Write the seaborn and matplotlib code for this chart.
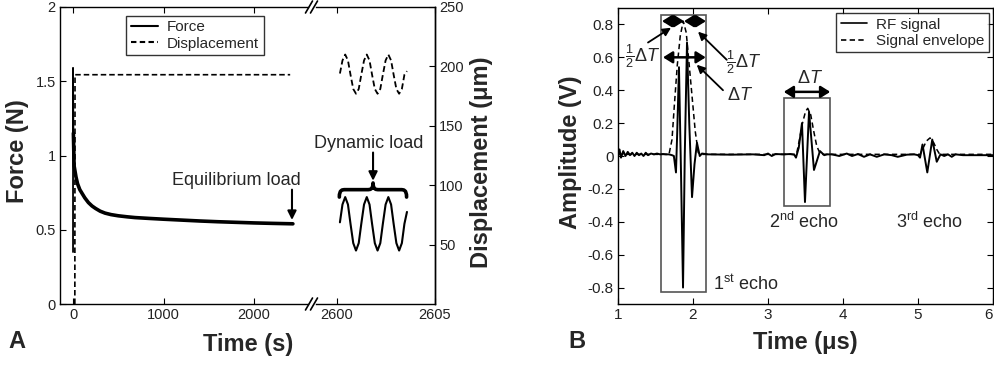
import matplotlib
matplotlib.use("Agg")
import matplotlib.pyplot as plt
import seaborn as sns
from matplotlib.lines import Line2D
from matplotlib.path import Path
from matplotlib.patches import PathPatch, Rectangle, ArrowStyle

#####
# Panel A data: creep test (force / displacement vs time)
#####
force_t = [0, 0, 4, 12, 33, 50, 75, 100, 130, 170, 210, 250, 300, 354, 420, 500, 600,
           685, 850, 1000, 1200, 1400, 1600, 1800, 2000, 2200, 2430]
force_n = [0.35, 1.59, 1.15, 0.93, 0.855, 0.81, 0.77, 0.745, 0.715, 0.683, 0.66, 0.643,
           0.625, 0.612, 0.602, 0.594, 0.587, 0.582, 0.576, 0.571, 0.565, 0.559, 0.554,
           0.55, 0.546, 0.543, 0.54]
disp_t = [20, 22, 2400]
disp_um = [0, 193, 193]

# dynamic load segment (after the axis break)
dyn_t = [2600.15, 2600.28, 2600.42, 2600.56, 2600.69, 2600.83, 2600.97, 2601.11,
         2601.24, 2601.38, 2601.52, 2601.66, 2601.79, 2601.93, 2602.07, 2602.21,
         2602.34, 2602.48, 2602.62, 2602.76, 2602.89, 2603.03, 2603.17, 2603.31,
         2603.44, 2603.57]
dyn_force = [0.55, 0.67, 0.72, 0.67, 0.54, 0.41, 0.36, 0.41, 0.54, 0.67, 0.72, 0.67,
             0.54, 0.41, 0.36, 0.41, 0.54, 0.67, 0.72, 0.67, 0.54, 0.41, 0.36, 0.41,
             0.54, 0.62]
dyn_disp = [194, 205, 210, 205, 193, 181, 177, 181, 193, 205, 210, 205, 193, 181,
            177, 181, 193, 205, 210, 205, 193, 181, 177, 181, 193, 196]

#####
# Panel B data: RF signal and envelope
#####
rf_t = [1.00, 1.02, 1.04, 1.07, 1.10, 1.13, 1.16, 1.19, 1.22, 1.25, 1.28, 1.31, 1.34,
        1.37, 1.40, 1.44, 1.48, 1.52, 1.56, 1.60, 1.64, 1.68, 1.72, 1.745,
        1.773, 1.79, 1.813, 1.84, 1.867, 1.89, 1.92, 1.95, 1.987, 2.02, 2.053, 2.09, 2.12,
        2.2, 2.5, 2.8, 2.95, 3.0, 3.05, 3.1, 3.2, 3.3, 3.35,
        3.373, 3.41, 3.453, 3.493, 3.547, 3.613, 3.693, 3.75, 3.787,
        3.85, 3.95, 4.05, 4.12, 4.2, 4.28, 4.36, 4.45, 4.55, 4.65, 4.73, 4.85, 4.95, 5.0,
        5.027, 5.06, 5.124, 5.19, 5.25, 5.3, 5.35, 5.4, 5.45, 5.5, 5.6, 6.0]
rf_v = [0.00, 0.04, -0.01, 0.03, 0.00, 0.025, 0.005, 0.02, 0.0, 0.02, 0.005, 0.015, 0.0,
        0.02, 0.005, 0.015, 0.01, 0.015, 0.01, 0.012, 0.01, 0.01, 0.005, 0.0,
        -0.10, 0.15, 0.54, -0.10, -0.80, 0.0, 0.69, 0.20, -0.25, -0.05, 0.08, 0.0, 0.015,
        0.01, 0.008, 0.01, 0.005, 0.015, 0.0, 0.012, 0.01, 0.012, 0.008,
        -0.01, 0.05, 0.20, -0.28, 0.27, -0.085, 0.03, 0.005, 0.01,
        0.01, 0.0, 0.015, 0.0, 0.012, -0.005, 0.01, -0.005, 0.01, 0.005, -0.005, 0.008, 0.01, 0.005,
        -0.01, 0.07, -0.10, 0.10, -0.035, 0.01, 0.0, 0.01, -0.005, 0.01, 0.005, 0.005]
env_t = [1.0, 1.68, 1.72, 1.75, 1.79, 1.83, 1.87, 1.91, 1.95, 1.99, 2.03, 2.07, 2.12,
         3.38, 3.42, 3.46, 3.50, 3.53, 3.57, 3.61, 3.65, 3.70,
         5.03, 5.07, 5.11, 5.16, 5.21, 5.25, 5.29, 6.0]
env_v = [0.01, 0.01, 0.10, 0.30, 0.55, 0.73, 0.82, 0.75, 0.55, 0.35, 0.15, 0.02, 0.01,
         0.01, 0.10, 0.20, 0.27, 0.29, 0.25, 0.15, 0.06, 0.01,
         0.01, 0.05, 0.09, 0.11, 0.08, 0.04, 0.01, 0.01]

sns.set_theme(style="ticks")
plt.rcParams["font.family"] = ["Liberation Sans", "DejaVu Sans"]
plt.rcParams["mathtext.fontset"] = "custom"
plt.rcParams["mathtext.rm"] = "Liberation Sans"
plt.rcParams["mathtext.it"] = "Liberation Sans:italic"
plt.rcParams["mathtext.bf"] = "Liberation Sans:bold"
plt.rcParams["axes.linewidth"] = 1.0
plt.rcParams["axes.edgecolor"] = "black"

W, H = 995, 365
fig = plt.figure(figsize=(W / 100, H / 100), dpi=100)


def box(x0, y0, x1, y1):
    return [x0 / W, 1 - y1 / H, (x1 - x0) / W, (y1 - y0) / H]


ax1 = fig.add_axes(box(60, 7, 308, 304))
ax2 = fig.add_axes(box(316, 7, 435, 304), sharey=ax1)
ax1r = ax1.twinx()
ax2r = ax2.twinx()
axb = fig.add_axes(box(618, 8, 993, 304))

tick_kw = dict(direction="in", length=4, width=0.8, pad=3, colors="black", labelcolor="#222")

# ---- panel A ----
dash_a = (0, (3.3, 1.8))
sns.lineplot(x=force_t, y=force_n, ax=ax1, sort=False, estimator=None, color="black", lw=1.3)
sns.lineplot(x=force_t[2:], y=force_n[2:], ax=ax1, sort=False, estimator=None, color="black", lw=2.6)
sns.lineplot(x=disp_t, y=disp_um, ax=ax1r, sort=False, estimator=None, color="black", lw=1.2,
             linestyle=dash_a)
sns.lineplot(x=dyn_t, y=dyn_force, ax=ax2, sort=False, estimator=None, color="black", lw=1.5)
sns.lineplot(x=dyn_t, y=dyn_disp, ax=ax2r, sort=False, estimator=None, color="black", lw=1.3,
             linestyle=dash_a)

ax1.set_xlim(-144, 2597)
ax2.set_xlim(2598.93, 2605)
ax1.set_ylim(0, 2)
ax1r.set_ylim(0, 250)
ax2r.set_ylim(0, 250)

ax1.spines["right"].set_visible(False)
ax2.spines["left"].set_visible(False)
for s in ax1r.spines.values():
    s.set_visible(False)
ax2r.spines["left"].set_visible(False)
ax2r.spines["top"].set_visible(False)
ax2r.spines["bottom"].set_visible(False)
ax1r.set_yticks([])
ax1r.tick_params(right=False, labelright=False)

ax1.set_xticks([0, 1000, 2000])
ax1.set_xticklabels(["0", "1000", "2000"])
ax1.set_yticks([0, 0.5, 1, 1.5, 2])
ax1.set_yticklabels(["0", "0.5", "1", "1.5", "2"])
ax1.tick_params(axis="both", labelsize=10.5, top=True, right=False, **tick_kw)
ax2.set_xticks([2600, 2605])
ax2.set_xticklabels(["2600", "2605"])
ax2.tick_params(axis="x", labelsize=10.5, top=True, **tick_kw)
ax2.tick_params(axis="y", left=False, labelleft=False, right=False)
ax2r.set_yticks([50, 100, 150, 200, 250])
ax2r.set_yticklabels(["50", "100", "150", "200", "250"])
ax2r.tick_params(axis="y", labelsize=10.5, right=True, **tick_kw)
for a in (ax1, ax2, ax1r, ax2r):
    a.set_xlabel("")
    a.set_ylabel("")

handles_a = [Line2D([], [], color="black", lw=1.5),
             Line2D([], [], color="black", lw=1.5, linestyle=(0, (2.6, 1.6)))]
leg_a = ax1r.legend(handles_a, ["Force", "Displacement"], loc="upper left",
                    bbox_to_anchor=(0.266, 0.97), fontsize=11, frameon=True, fancybox=False,
                    edgecolor="black", handlelength=1.8, labelspacing=0.15, borderpad=0.3,
                    handletextpad=0.6, borderaxespad=0)
leg_a.get_frame().set_linewidth(1.0)

arr = dict(arrowstyle="-|>", color="black", lw=1.5, mutation_scale=13, shrinkA=0, shrinkB=0)
ax1.text(1801, 0.83, "Equilibrium load", fontsize=13, ha="center", va="center")
ax1.annotate("", xy=(2420, 0.566), xytext=(2420, 0.77), arrowprops=arr)
ax2.text(2601.63, 1.084, "Dynamic load", fontsize=13, ha="center", va="center")
ax2.annotate("", xy=(2601.84, 0.83), xytext=(2601.84, 1.02), arrowprops=arr)

# curly brace over the dynamic load
x0, x1, xm, r = 2600.12, 2603.55, 2601.84, 0.3
yl, ym, yh = 0.72, 0.77, 0.815
verts = [(x0, yl), (x0, ym), (x0 + r / 2, ym), (x0 + r, ym),
         (xm - r, ym),
         (xm - r / 2, ym), (xm, ym), (xm, yh),
         (xm, ym), (xm + r / 2, ym), (xm + r, ym),
         (x1 - r, ym),
         (x1 - r / 2, ym), (x1, ym), (x1, yl)]
codes = [Path.MOVETO, Path.CURVE4, Path.CURVE4, Path.CURVE4,
         Path.LINETO,
         Path.CURVE4, Path.CURVE4, Path.CURVE4,
         Path.CURVE4, Path.CURVE4, Path.CURVE4,
         Path.LINETO,
         Path.CURVE4, Path.CURVE4, Path.CURVE4]
ax2.add_patch(PathPatch(Path(verts, codes), fill=False, lw=2.6, edgecolor="black",
                        capstyle="round", joinstyle="round"))

# axis break marks
for yb in (7, 304):
    for xb in (309, 314):
        fig.add_artist(Line2D([(xb - 3.5) / W, (xb + 3.5) / W],
                              [1 - (yb + 6) / H, 1 - (yb - 6) / H],
                              color="black", lw=1.2, transform=fig.transFigure))

# ---- panel B ----
sns.lineplot(x=rf_t, y=rf_v, ax=axb, sort=False, estimator=None, color="black", lw=1.4)
sns.lineplot(x=env_t, y=env_v, ax=axb, sort=False, estimator=None, color="black", lw=1.1,
             linestyle=(0, (3.5, 2.2)))
axb.set_xlim(1, 6)
axb.set_ylim(-0.9, 0.9)
axb.set_xlabel("")
axb.set_ylabel("")
axb.set_xticks([1, 2, 3, 4, 5, 6])
axb.set_xticklabels(["1", "2", "3", "4", "5", "6"])
yt = [-0.8, -0.6, -0.4, -0.2, 0, 0.2, 0.4, 0.6, 0.8]
axb.set_yticks(yt)
axb.set_yticklabels(["-0.8", "-0.6", "-0.4", "-0.2", "0", "0.2", "0.4", "0.6", "0.8"])
axb.tick_params(axis="both", labelsize=11, top=True, right=True, **tick_kw)
# the last x label sits on the figure edge: keep it inside
axb.get_xticklabels()[-1].set_horizontalalignment("right")

axb.add_patch(Rectangle((1.573, -0.83), 0.6, 1.685, fill=False, edgecolor="#555555", lw=1.2))
axb.add_patch(Rectangle((3.21, -0.305), 0.62, 0.655, fill=False, edgecolor="#555555", lw=1.2))

handles_b = [Line2D([], [], color="black", lw=1.2),
             Line2D([], [], color="black", lw=1.2, linestyle=(0, (3.2, 2.0)))]
leg_b = axb.legend(handles_b, ["RF signal", "Signal envelope"], loc="upper right",
                   bbox_to_anchor=(0.989, 0.983), fontsize=11, frameon=True, fancybox=False,
                   edgecolor="black", handlelength=1.7, labelspacing=0.15, borderpad=0.3,
                   handletextpad=0.6, borderaxespad=0)
leg_b.get_frame().set_linewidth(1.0)

dbl = dict(arrowstyle=ArrowStyle("<|-|>", head_length=0.4, head_width=0.25), color="black",
           lw=1.8, mutation_scale=14, shrinkA=0, shrinkB=0)
axb.annotate("", xy=(1.587, 0.82), xytext=(1.88, 0.82), arrowprops=dbl)
axb.annotate("", xy=(1.88, 0.82), xytext=(2.173, 0.82), arrowprops=dbl)
axb.annotate("", xy=(1.60, 0.60), xytext=(2.17, 0.60), arrowprops=dbl)
axb.annotate("", xy=(3.21, 0.39), xytext=(3.83, 0.39), arrowprops=dbl)

one = dict(arrowstyle="-|>", color="black", lw=1.3, mutation_scale=12, shrinkA=0, shrinkB=0)
axb.annotate("", xy=(1.707, 0.78), xytext=(1.40, 0.69), arrowprops=one)
axb.annotate("", xy=(2.067, 0.756), xytext=(2.45, 0.585), arrowprops=one)
axb.annotate("", xy=(2.05, 0.555), xytext=(2.40, 0.40), arrowprops=one)

axb.text(1.10, 0.61, r"$\frac{1}{2}\Delta T$", fontsize=13, ha="left", va="center")
axb.text(2.44, 0.57, r"$\frac{1}{2}\Delta T$", fontsize=13, ha="left", va="center")
axb.text(2.45, 0.37, r"$\Delta T$", fontsize=13, ha="left", va="center")
axb.text(3.56, 0.47, r"$\Delta T$", fontsize=13, ha="center", va="center")

axb.text(2.27, -0.78, r"1$^{\mathrm{st}}$ echo", fontsize=13, ha="left", va="center")
axb.text(3.48, -0.40, r"2$^{\mathrm{nd}}$ echo", fontsize=13, ha="center", va="center")
axb.text(5.16, -0.40, r"3$^{\mathrm{rd}}$ echo", fontsize=13, ha="center", va="center")

# ---- axis titles and panel letters ----
lab = dict(fontsize=17, fontweight="bold", ha="center", va="center")
fig.text(248 / W, 1 - 345 / H, "Time (s)", **lab)
fig.text(18 / W, 1 - 151 / H, "Force (N)", rotation=90, **lab)
fig.text(482 / W, 1 - 162 / H, "Displacement (μm)", rotation=90, **lab)
fig.text(805 / W, 1 - 343 / H, "Time (μs)", **lab)
fig.text(571 / W, 1 - 152 / H, "Amplitude (V)", rotation=90, **lab)
fig.text(8 / W, 1 - 342 / H, "A", fontsize=17, fontweight="bold", ha="left", va="center")
fig.text(568 / W, 1 - 342 / H, "B", fontsize=17, fontweight="bold", ha="left", va="center")

fig.savefig("out.png", dpi=100)
